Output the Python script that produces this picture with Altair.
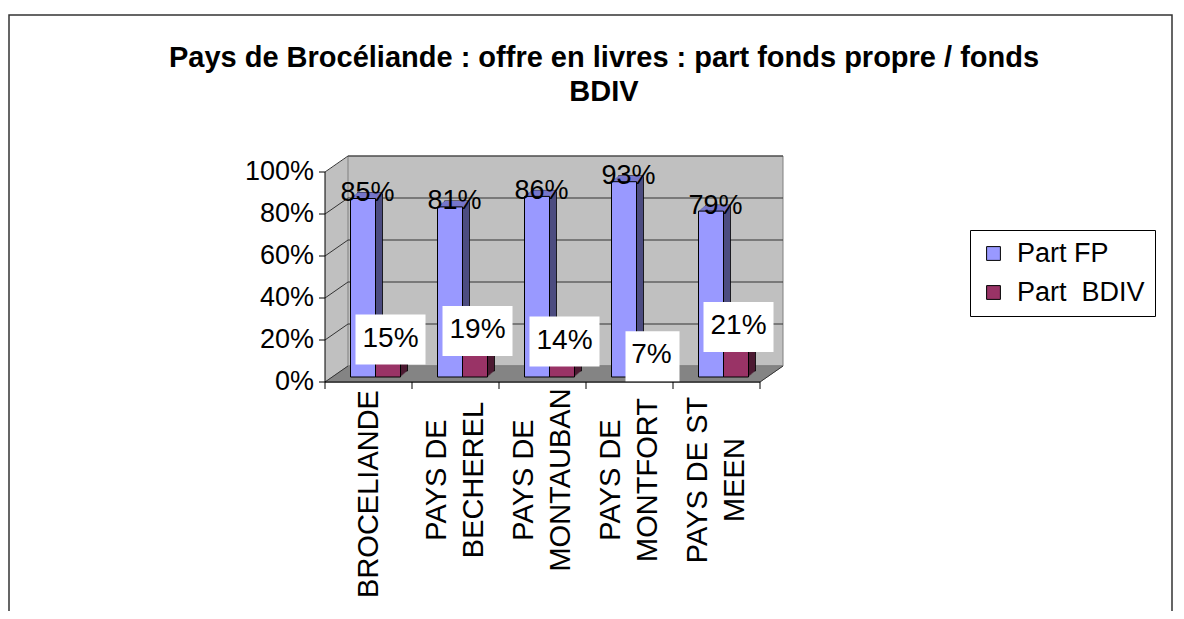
import altair as alt
import pandas as pd

# ---------------- data ----------------
categories = ["BROCELIANDE", "PAYS DE|BECHEREL", "PAYS DE|MONTAUBAN", "PAYS DE|MONTFORT", "PAYS DE ST|MEEN"]
part_fp = [0.85, 0.81, 0.86, 0.93, 0.79]
part_bdiv = [0.15, 0.19, 0.14, 0.07, 0.21]
series_names = ["Part FP", "Part\u00a0 BDIV"]
y_ticks = [0, 0.2, 0.4, 0.6, 0.8, 1.0]
title_lines = ["Pays de Brocéliande : offre en livres : part fonds propre / fonds", "BDIV"]

# ---------------- layout / style ----------------
W, H = 435, 210
DX, DY = 23, 16          # depth of the 3D box (walls / floor)
BAR_W = 25
BAR_DX, BAR_DY = 7, 5    # bars sit a little behind the front plane
EXT_X, EXT_Y = 7, 6      # bar thickness
N = 7
FONT = "Liberation Sans"
LINE_H = 37              # line spacing of the category labels

fp_df = pd.DataFrame({"cat": categories, "series": series_names[0], "value": part_fp})
bd_df = pd.DataFrame({"cat": categories, "series": series_names[1], "value": part_bdiv})
tick_df = pd.DataFrame({"t": y_ticks})
cat_df = pd.DataFrame({"cat": categories})
one = pd.DataFrame({"k": [0]})

yscale = alt.Scale(domain=[0, 1], nice=False, zero=True)
xscale = alt.Scale(domain=categories, paddingInner=0, paddingOuter=0)

X = alt.X("cat:N", sort=categories, scale=xscale, axis=None)
Y = alt.Y("value:Q", scale=yscale, axis=None)
T = alt.Y("t:Q", scale=yscale, axis=None)

color_scale = alt.Scale(domain=series_names, range=["#9999ff", "#993366"])
legend = alt.Legend(title=None, orient="none", legendX=645, legendY=58, symbolType="square",
                    symbolSize=190, symbolStrokeColor="black", symbolStrokeWidth=1,
                    labelFontSize=27, labelFont=FONT, labelColor="black", padding=10,
                    rowPadding=11, strokeColor="black", fillColor="white", labelOffset=10,
                    symbolOpacity=1, labelLimit=400)

layers = []

# outer frame
layers.append(alt.Chart(one).mark_rect(fillOpacity=0, stroke="#333333", strokeWidth=1.5).encode(
    x=alt.value(-316), x2=alt.value(847), y=alt.value(-157), y2=alt.value(470)))

# walls (side + back) as stacked copies
for i in range(DY + 1):
    ox = i * DX / DY
    layers.append(alt.Chart(one).mark_rect(color="#c0c0c0", xOffset=ox, x2Offset=ox,
                                           yOffset=-i, y2Offset=-i).encode(
        x=alt.value(0), x2=alt.value(W), y=alt.value(0), y2=alt.value(H)))

# floor
for i in range(DY + 1):
    ox = i * DX / DY
    layers.append(alt.Chart(one).mark_rule(color="#808080", strokeWidth=1.6, xOffset=ox,
                                           x2Offset=ox, yOffset=-i).encode(
        x=alt.value(0), x2=alt.value(W), y=alt.value(H)))

# back wall outline
layers.append(alt.Chart(one).mark_rect(fillOpacity=0, stroke="#808080", strokeWidth=1,
                                       xOffset=DX, x2Offset=DX, yOffset=-DY, y2Offset=-DY).encode(
    x=alt.value(0), x2=alt.value(W), y=alt.value(0), y2=alt.value(H)))

# back wall gridlines
layers.append(alt.Chart(tick_df).mark_rule(color="#333333", strokeWidth=1, xOffset=DX,
                                           x2Offset=DX, yOffset=-DY).encode(
    x=alt.value(0), x2=alt.value(W), y=T).transform_filter("datum.t > 0"))

# side wall diagonals
layers.append(alt.Chart(tick_df).mark_rule(color="#333333", strokeWidth=1, x2Offset=DX,
                                           y2Offset=-DY).encode(
    x=alt.value(0), x2=alt.value(0), y=T, y2="t:Q"))

# floor right edge
layers.append(alt.Chart(one).mark_rule(color="#333333", strokeWidth=1, x2Offset=DX,
                                       y2Offset=-DY).encode(
    x=alt.value(W), x2=alt.value(W), y=alt.value(H), y2=alt.value(H)))


def bar_layers(df, front_x, side_col, top_col):
    out = []
    for i in range(N, 0, -1):
        sx = front_x + i * EXT_X / N
        sy = -BAR_DY - i * EXT_Y / N
        kw = dict(stroke="black", strokeWidth=0.8) if i == N else {}
        out.append(alt.Chart(df).mark_bar(width=BAR_W, color=side_col, xOffset=sx, yOffset=sy,
                                          y2Offset=sy, **kw).encode(
            x=X, y=Y, y2=alt.datum(0)))
    for i in range(1, N + 1):
        sx = front_x + i * EXT_X / N
        top = -BAR_DY - i * EXT_Y / N
        bot = -BAR_DY - (i - 1) * EXT_Y / N + 0.6
        out.append(alt.Chart(df).mark_bar(width=BAR_W, color=top_col, xOffset=sx, yOffset=top,
                                          y2Offset=bot).encode(
            x=X, y=Y, y2="value:Q"))
    out.append(alt.Chart(df).mark_bar(width=BAR_W, stroke="black", strokeWidth=1, opacity=1,
                                      xOffset=front_x, yOffset=-BAR_DY, y2Offset=-BAR_DY).encode(
        x=X, y=Y, y2=alt.datum(0),
        color=alt.Color("series:N", scale=color_scale, legend=legend)))
    return out


layers += bar_layers(fp_df, BAR_DX - BAR_W / 2, "#4d4d80", "#7777cc")
layers += bar_layers(bd_df, BAR_DX + BAR_W / 2, "#4d1a33", "#7a2952")

# ---------- axes (drawn as marks through the scales) ----------
# y axis line, ticks, labels
layers.append(alt.Chart(one).mark_rule(color="black", strokeWidth=1).encode(
    x=alt.value(0), y=alt.value(0), y2=alt.value(H)))
layers.append(alt.Chart(tick_df).mark_rule(color="black", strokeWidth=1).encode(
    x=alt.value(-6), x2=alt.value(0), y=T))
layers.append(alt.Chart(tick_df).mark_text(fontSize=27, font=FONT, color="black", align="right",
                                           baseline="middle").encode(
    x=alt.value(-11), y=T, text=alt.Text("t:Q", format=".0%")))

# x axis line, ticks at category boundaries, labels
layers.append(alt.Chart(one).mark_rule(color="black", strokeWidth=1).encode(
    x=alt.value(0), x2=alt.value(W), y=alt.value(H)))
layers.append(alt.Chart(cat_df).mark_rule(color="black", strokeWidth=1).encode(
    x=alt.X("cat:N", sort=categories, scale=xscale, axis=None, bandPosition=0),
    y=alt.value(H), y2=alt.value(H + 7)))
layers.append(alt.Chart(one).mark_rule(color="black", strokeWidth=1).encode(
    x=alt.value(W), y=alt.value(H), y2=alt.value(H + 7)))
cat_lab = alt.Chart(cat_df).transform_calculate(n="length(split(datum.cat, '|'))")
for nlines, depth in ((1, 112), (2, 98)):
    layers.append(cat_lab.transform_filter(f"datum.n == {nlines}").mark_text(
        fontSize=29, font=FONT, color="black", angle=270, align="center", baseline="middle",
        lineBreak="|", lineHeight=LINE_H, xOffset=-(nlines - 1) * LINE_H / 2).encode(
        x=X, y=alt.value(H + depth), text="cat:N"))

# FP value labels
layers.append(alt.Chart(fp_df).mark_text(fontSize=27, font=FONT, color="black", xOffset=-1,
                                         yOffset=-10.5, baseline="middle").encode(
    x=X, y=Y, text=alt.Text("value:Q", format=".0%")))

# BDIV labels in white boxes
bd_lab = alt.Chart(bd_df).transform_calculate(label="format(datum.value, '.0%')")
layers.append(bd_lab.transform_filter("length(datum.label) >= 3").mark_bar(
    width=70, color="white", xOffset=22, yOffset=-36, y2Offset=14).encode(x=X, y=Y, y2="value:Q"))
layers.append(bd_lab.transform_filter("length(datum.label) < 3").mark_bar(
    width=54, color="white", xOffset=23, yOffset=-36, y2Offset=14).encode(x=X, y=Y, y2="value:Q"))
layers.append(bd_lab.mark_text(fontSize=28, font=FONT, color="black", xOffset=22, yOffset=-12,
                               baseline="middle").encode(x=X, y=Y, text="label:N"))

chart = alt.layer(*layers).properties(
    width=W, height=H,
    title=alt.TitleParams(text=title_lines, font=FONT, fontSize=29, fontWeight="bold",
                          color="black", anchor="middle", dx=61.5, dy=93, lineHeight=34,
                          offset=0),
    autosize=alt.AutoSizeParams(type="none"),
    padding={"left": 317, "top": 164, "right": 416, "bottom": 229},
).configure_view(stroke=None).configure(background="white")

chart.save("out.html", embed_options={"renderer": "svg", "actions": False})
